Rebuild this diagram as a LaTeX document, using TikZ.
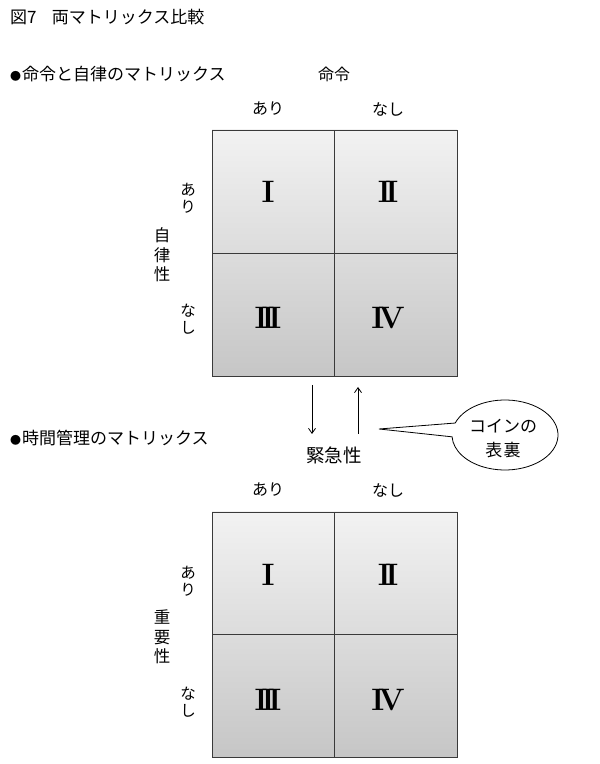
\documentclass[tikz,border=0pt]{standalone}
\usepackage{fontspec}
\setmainfont{Noto Sans CJK JP}
\newfontfamily\romfont{Latin Modern Roman}
\usetikzlibrary{arrows.meta}
\definecolor{topg}{HTML}{F2F2F2}
\definecolor{botg}{HTML}{C6C6C6}
\definecolor{edgeg}{HTML}{3A3A3A}
\newcommand{\dotmark}{{\fontsize{11}{11}\selectfont ●}\hspace{1pt}}
\begin{document}
\begin{tikzpicture}[x=1pt,y=1pt,
  head/.style={font=\fontsize{17}{19}\selectfont, inner sep=0pt},
  lab/.style={font=\fontsize{16}{18}\selectfont, inner sep=0pt},
  callt/.style={font=\fontsize{17}{19}\selectfont, inner sep=0pt},
  vlab/.style={font=\fontsize{15.5}{17}\selectfont, align=center, inner sep=0pt},
  vlab3/.style={font=\fontsize{16.5}{19.5}\selectfont, align=center, inner sep=0pt},
  rom/.style={font=\romfont\bfseries\fontsize{31}{32}\selectfont, inner sep=0pt},
  cell/.style={draw=edgeg, line width=0.8pt},
  arr/.style={-{Straight Barb[length=5pt,width=7pt]}, line width=0.8pt, draw=black}]
\useasboundingbox (0,0) rectangle (600,764);
% headings
\node[head, anchor=west] (title) at (10,747) {図7\hspace{0.9em}両マトリックス比較};
\node[head, anchor=west] (h1) at (10,690) {\dotmark 命令と自律のマトリックス};
\node[lab] (meirei) at (334,690) {命令};
% top matrix
\shade[top color=topg, bottom color=botg] (212,388) rectangle (457,634);
\draw[cell] (212,388) rectangle (457,634);
\draw[cell] (334,388) -- (334,634);
\draw[cell] (212,511) -- (457,511);
\node[lab] (ta1) at (268,655) {あり};
\node[lab] (tn1) at (388,655) {なし};
\node[vlab] (la1) at (188,566) {あ\\り};
\node[vlab3] (jiritsu) at (162,509) {自\\律\\性};
\node[vlab] (ln1) at (188,445) {な\\し};
\node[rom] (r11) at (268,572) {I};
\node[rom] (r12) at (388,572) {I\kern-5.5pt I};
\node[rom] (r13) at (268,446) {I\kern-6pt I\kern-6pt I};
\node[rom] (r14) at (388,446) {I\kern-6pt V};
% arrows and urgency
\coordinate (dA) at (312,379);
\coordinate (dB) at (312,330);
\coordinate (uA) at (358,330);
\coordinate (uB) at (358,377);
\draw[arr] (dA) -- (dB);
\draw[arr] (uA) -- (uB);
\node[font=\fontsize{18.5}{20}\selectfont, inner sep=0pt] (kinkyu) at (334,309) {緊急性};
% callout
\coordinate (tip) at (379,335);
\coordinate (ec) at (505,329);
\draw[line width=0.8pt, draw=black, fill=white] (tip) -- ([shift={(160:53 and 35)}]ec)
  arc[start angle=160, end angle=-177, x radius=53, y radius=35] -- cycle;
\node[callt] (coin) at (503,338) {コインの};
\node[callt] (hyori) at (503,314) {表\hspace{1.5pt}裏};
% second heading
\node[head, anchor=west] (h2) at (10,326) {\dotmark 時間管理のマトリックス};
% bottom matrix
\shade[top color=topg, bottom color=botg] (212,7) rectangle (457,252);
\draw[cell] (212,7) rectangle (457,252);
\draw[cell] (334,7) -- (334,252);
\draw[cell] (212,130) -- (457,130);
\node[lab] (ta2) at (268,274) {あり};
\node[lab] (tn2) at (388,274) {なし};
\node[vlab] (la2) at (188,183) {あ\\り};
\node[vlab3] (juyo) at (162,127) {重\\要\\性};
\node[vlab] (ln2) at (188,62) {な\\し};
\node[rom] (r21) at (268,189) {I};
\node[rom] (r22) at (388,189) {I\kern-5.5pt I};
\node[rom] (r23) at (268,64) {I\kern-6pt I\kern-6pt I};
\node[rom] (r24) at (388,64) {I\kern-6pt V};
\end{tikzpicture}
\end{document}
